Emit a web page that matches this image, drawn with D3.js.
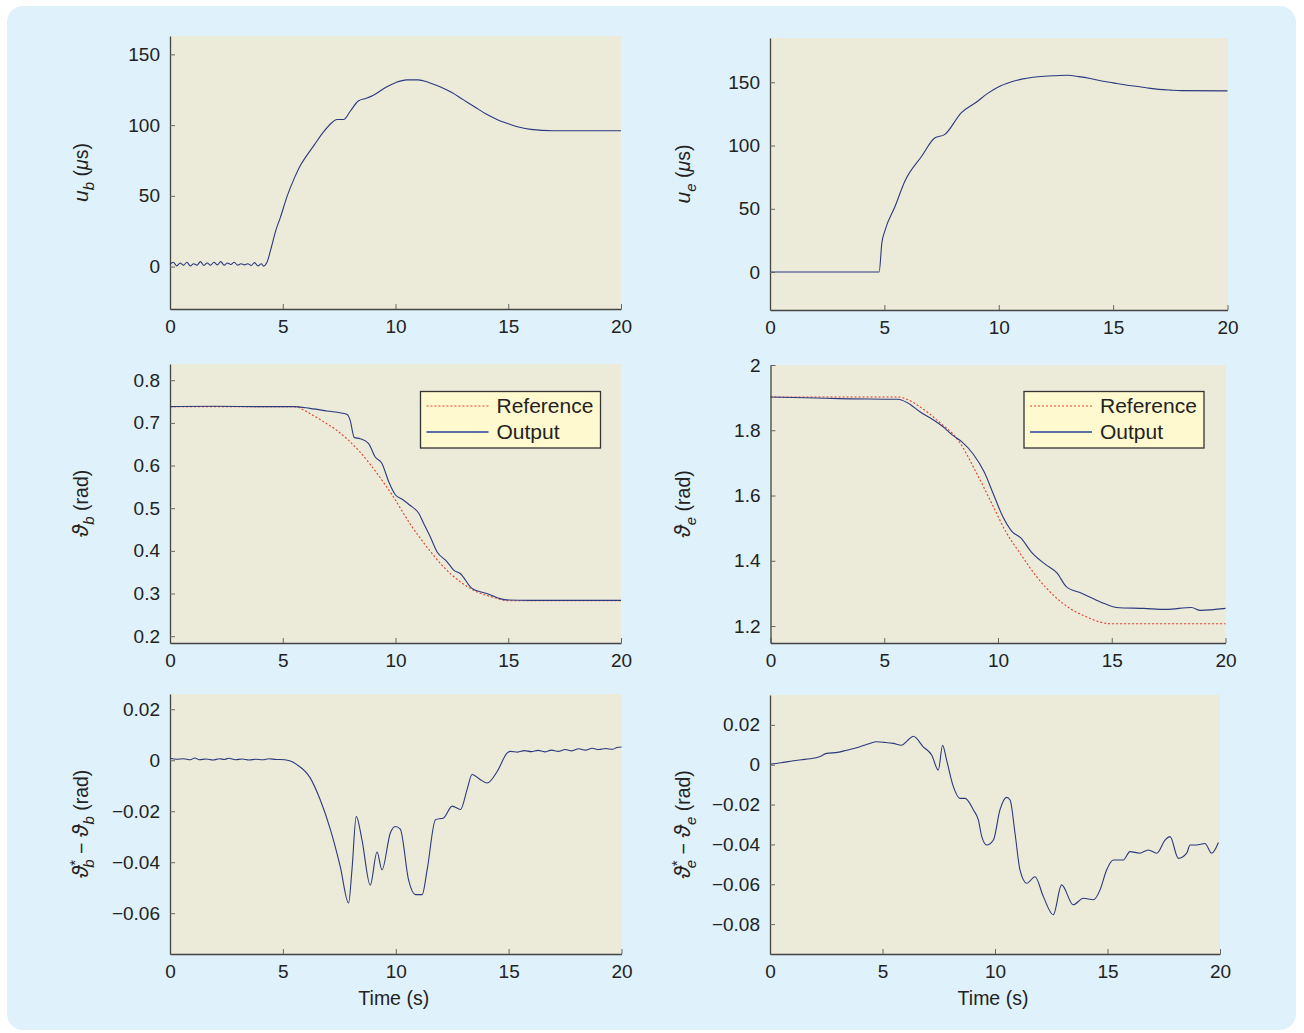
<!DOCTYPE html>
<html>
<head>
<meta charset="utf-8">
<script src="https://cdn.jsdelivr.net/npm/d3@7"></script>
<style>
  body { margin: 0; background: #ffffff; }
  text { font-family: "Liberation Sans", Arial, Helvetica, sans-serif; fill: #222; }
</style>
</head>
<body>
<svg id="chart"></svg>
<script>
// time axis shared by all panels
const timeDomain = [0, 20];
const timeTicks = [0, 5, 10, 15, 20];

// u_b (µs) : [t, value]
const ubData = [[0,1.5],[0.15,3],[0.3,0.5],[0.45,2.5],[0.6,1],[0.75,3],[0.9,0.5],[1.05,2],[1.2,1],[1.35,3.5],
  [1.5,0.8],[1.65,2.5],[1.8,1],[1.95,3],[2.1,1.2],[2.25,3.5],[2.4,1],[2.55,2.5],[2.7,1.5],[2.85,3],[3.0,1],
  [3.15,2],[3.3,1.2],[3.45,2],[3.6,0.8],[3.75,2.8],[3.9,0.5],[4.05,2],[4.15,0.3],[4.3,3],[4.5,14],[4.7,26],
  [4.9,35],[5.2,50],[5.5,62],[5.8,72],[6.0,77],[6.4,86],[6.8,95],[7.2,102],[7.4,104],[7.7,104],[8.0,110],
  [8.35,117],[8.7,119],[9.0,121],[9.6,127],[10.0,130],[10.5,132],[11.0,132],[11.5,130],[12.0,127],[12.5,123],
  [13.0,118],[13.5,113],[14.0,108],[14.5,104],[15.0,101],[15.5,98.5],[16,97],[17,96],[18,96],[20,96]];

// u_e (µs)
const ueData = [[0,0],[4.77,0],[4.89,23],[5.03,33],[5.47,52],[5.9,72],[6.63,91.5],[7.2,106],[7.63,108.6],
  [8.37,126],[9.0,134],[9.5,141],[10.0,146.5],[10.5,150],[11,152.5],[11.5,154],[12,154.8],[12.5,155.2],
  [13,155.5],[13.5,154.5],[14,153],[14.5,151],[15,149.5],[15.5,148],[16,146.8],[16.5,145.5],[17,144.4],
  [17.5,143.8],[18,143.4],[20,143.2]];

// theta_b (rad)
const thbRef = [[0,0.738],[5.5,0.738],[6.2,0.722],[6.8,0.703],[7.38,0.683],[8.42,0.632],[9.3,0.573],[9.9,0.527],
  [10.64,0.464],[11.38,0.41],[12.12,0.363],[12.86,0.328],[13.6,0.304],[14.35,0.291],[15,0.283],[20,0.283]];
const thbOut = [[0,0.738],[2,0.739],[4,0.738],[5.5,0.738],[6.2,0.734],[6.95,0.728],[7.84,0.72],[7.99,0.706],
  [8.17,0.666],[8.43,0.663],[8.8,0.652],[9.1,0.62],[9.4,0.605],[9.7,0.562],[10,0.531],[10.3,0.521],[10.64,0.507],
  [11.03,0.488],[11.25,0.464],[11.54,0.433],[11.84,0.398],[12.28,0.375],[12.58,0.355],[12.87,0.347],
  [13.39,0.312],[14.05,0.3],[14.93,0.285],[16,0.284],[18,0.284],[20,0.284]];

// theta_e (rad)
const theRef = [[0,1.902],[5.6,1.902],[6.0,1.895],[6.5,1.875],[7.0,1.85],[7.5,1.82],[8.0,1.79],[8.3,1.764],
  [9.04,1.671],[9.78,1.568],[10.37,1.486],[10.96,1.424],[11.69,1.352],[12.43,1.295],[13.16,1.254],
  [13.9,1.228],[14.49,1.212],[14.93,1.207],[20,1.207]];
const theOut = [[0,1.902],[2,1.899],[3,1.897],[5.6,1.895],[6.0,1.885],[6.6,1.855],[7.2,1.83],[7.6,1.81],
  [8.0,1.785],[8.4,1.765],[8.9,1.728],[9.4,1.671],[9.8,1.604],[10.2,1.537],[10.6,1.491],[11.0,1.47],
  [11.5,1.424],[12.1,1.388],[12.6,1.362],[13.0,1.321],[13.7,1.3],[14.5,1.274],[15.2,1.257],[16.4,1.254],
  [17.4,1.251],[18.5,1.257],[18.9,1.248],[20,1.254]];

// tracking errors (rad)
const errB = [[0,0.0008],[0.3,0.0004],[0.6,0.0006],[0.9,0.0002],[1.1,0.0009],[1.3,0.0002],[1.6,0.0005],
  [1.9,0.0001],[2.2,0.0006],[2.4,0.0003],[2.6,0.0008],[2.9,0.0002],[3.2,0.0005],[3.5,0.0001],[3.8,0.0004],
  [4.1,0.0002],[4.4,0.0006],[4.7,0.0003],[4.88,0.0003],[5.3,-0.0002],[5.62,-0.0017],[6.21,-0.0069],
  [6.65,-0.0154],[7.1,-0.027],[7.54,-0.0416],[7.91,-0.056],[8.06,-0.043],[8.25,-0.022],[8.5,-0.031],
  [8.87,-0.049],[9.17,-0.036],[9.39,-0.043],[9.76,-0.0285],[9.98,-0.026],[10.2,-0.027],[10.57,-0.047],
  [10.87,-0.0527],[11.17,-0.0527],[11.39,-0.043],[11.76,-0.0233],[12.12,-0.0226],[12.5,-0.018],
  [12.87,-0.0193],[13.16,-0.0115],[13.38,-0.0056],[13.75,-0.0076],[14.05,-0.0089],[14.5,-0.0043],
  [14.94,0.0029],[15.08,0.0035],[15.4,0.0032],[15.7,0.0038],[16,0.0034],[16.3,0.0039],[16.6,0.0033],
  [16.9,0.004],[17.2,0.0035],[17.5,0.0042],[17.8,0.0037],[18.1,0.0045],[18.4,0.004],[18.7,0.0047],
  [19,0.0042],[19.3,0.0046],[19.6,0.0043],[19.8,0.005],[20,0.0052]];
const errE = [[0,0.0002],[0.5,0.001],[1.04,0.002],[1.4,0.0025],[1.78,0.003],[2.2,0.004],[2.52,0.0057],
  [3.0,0.0062],[3.41,0.0073],[4,0.009],[4.4,0.0105],[4.74,0.0115],[5.1,0.0112],[5.48,0.0107],[5.85,0.0098],
  [6.1,0.012],[6.37,0.0143],[6.81,0.009],[7.19,0.0048],[7.48,-0.0027],[7.67,0.0098],[7.85,0.0023],
  [8.15,-0.011],[8.44,-0.0169],[8.67,-0.0169],[9.04,-0.0227],[9.26,-0.0277],[9.41,-0.036],[9.63,-0.0403],
  [9.93,-0.0378],[10.22,-0.0227],[10.52,-0.0164],[10.67,-0.0177],[10.89,-0.0344],[11.11,-0.0528],
  [11.41,-0.0595],[11.78,-0.0562],[12.15,-0.0662],[12.59,-0.0753],[12.96,-0.0603],[13.48,-0.0703],
  [13.93,-0.067],[14.37,-0.0678],[14.67,-0.0628],[14.96,-0.0528],[15.26,-0.0478],[15.7,-0.0478],
  [16,-0.0436],[16.44,-0.0444],[16.81,-0.0428],[17.19,-0.0444],[17.56,-0.0378],[17.78,-0.0361],
  [18.15,-0.047],[18.52,-0.0444],[18.67,-0.0403],[18.96,-0.0403],[19.33,-0.0395],[19.63,-0.0444],
  [19.93,-0.039]];

// y tick labels per panel
const ubTicks = [0, 50, 100, 150];
const ueTicks = [0, 50, 100, 150];
const thbTicks = [0.2, 0.3, 0.4, 0.5, 0.6, 0.7, 0.8];
const theTicks = [1.2, 1.4, 1.6, 1.8, 2];
const errBTicks = [-0.06, -0.04, -0.02, 0, 0.02];
const errETicks = [-0.08, -0.06, -0.04, -0.02, 0, 0.02];

const legendLabels = ["Reference", "Output"];

const width = 1304, height = 1033;
const svg = d3.select("#chart").attr("width", width).attr("height", height);

svg.append("rect")
    .attr("x", 7).attr("y", 6)
    .attr("width", 1289).attr("height", 1024)
    .attr("rx", 16)
    .attr("fill", "#dff1fb");

const outColor = "#2b3a7e";
const refColor = "#e2402c";

const minus = s => s.replace("-", "\u2212");

const panels = [
    { box: [170, 621, 36, 309], ydom: [-30, 163], ticks: ubTicks, fmt: d => String(d),
      series: [{ data: ubData }], label: "ub", lx: 88 },
    { box: [770, 1227.5, 38, 310], ydom: [-30, 185], ticks: ueTicks, fmt: d => String(d),
      series: [{ data: ueData }], label: "ue", lx: 690 },
    { box: [170, 621, 364, 643], ydom: [0.184, 0.838], ticks: thbTicks, fmt: d3.format(".1f"),
      series: [{ data: thbRef, ref: true }, { data: thbOut }], label: "thb", lx: 88, legend: [420.5, 391.5] },
    { box: [770.5, 1225.5, 365, 643], ydom: [1.148, 2.0], ticks: theTicks, fmt: d => d === 2 ? "2" : d3.format(".1f")(d),
      series: [{ data: theRef, ref: true }, { data: theOut }], label: "the", lx: 690, legend: [1024, 391.5] },
    { box: [170, 621.5, 694, 954], ydom: [-0.076, 0.026], ticks: errBTicks, fmt: d => d === 0 ? "0" : minus(d3.format(".2f")(d)),
      series: [{ data: errB }], label: "eb", lx: 88, time: true },
    { box: [770, 1220, 695, 954], ydom: [-0.095, 0.035], ticks: errETicks, fmt: d => d === 0 ? "0" : minus(d3.format(".2f")(d)),
      series: [{ data: errE }], label: "ee", lx: 690, time: true }
];

function yLabel(g, kind, x, y) {
    const t = g.append("text")
        .attr("transform", `translate(${x},${y}) rotate(-90)`)
        .attr("text-anchor", "middle")
        .attr("font-size", 19.5);
    const isU = kind[0] === "u";
    const sym = isU ? "u" : "\u03D1";
    const symSize = isU ? 21 : 23;
    const sub = kind === "ub" || kind === "thb" || kind === "eb" ? "b" : "e";
    if (kind === "eb" || kind === "ee") {
        t.append("tspan").attr("font-style", "italic").attr("font-size", symSize).text(sym);
        t.append("tspan").attr("font-size", 15).attr("dy", -8).text("*");
        t.append("tspan").attr("font-size", 15).attr("font-style", "italic").attr("dx", -8).attr("dy", 14).text(sub);
        t.append("tspan").attr("dy", -6).text(" \u2212 ");
        t.append("tspan").attr("font-style", "italic").attr("font-size", symSize).text(sym);
        t.append("tspan").attr("font-size", 15).attr("font-style", "italic").attr("dy", 6).text(sub);
        t.append("tspan").attr("dy", -6).text(" (rad)");
    } else {
        t.append("tspan").attr("font-style", "italic").attr("font-size", symSize).text(sym);
        t.append("tspan").attr("font-size", 15).attr("font-style", "italic").attr("dy", 6).text(sub);
        if (isU) {
            t.append("tspan").attr("dy", -6).text(" (");
            t.append("tspan").attr("font-style", "italic").text("\u03BC");
            t.append("tspan").text("s)");
        } else {
            t.append("tspan").attr("dy", -6).text(" (rad)");
        }
    }
}

panels.forEach(p => {
    const [l, r, top, bottom] = p.box;
    const x = d3.scaleLinear(timeDomain, [l, r]);
    const y = d3.scaleLinear(p.ydom, [bottom, top]);
    const g = svg.append("g");

    g.append("rect")
        .attr("x", l).attr("y", top)
        .attr("width", r - l).attr("height", bottom - top)
        .attr("fill", "#ecead9");

    const line = d3.line().curve(d3.curveMonotoneX).x(d => x(d[0])).y(d => y(d[1]));
    p.series.forEach(s => {
        g.append("path")
            .datum(s.data)
            .attr("fill", "none")
            .attr("stroke", s.ref ? refColor : outColor)
            .attr("stroke-width", 1.1)
            .attr("stroke-dasharray", s.ref ? "2,2" : null)
            .attr("d", line);
    });

    const xAxis = g.append("g")
        .attr("transform", `translate(0,${bottom})`)
        .call(d3.axisBottom(x).tickValues(timeTicks).tickFormat(d3.format("d"))
            .tickSizeInner(-5).tickSizeOuter(0).tickPadding(11));
    const yAxis = g.append("g")
        .attr("transform", `translate(${l},0)`)
        .call(d3.axisLeft(y).tickValues(p.ticks).tickFormat(p.fmt)
            .tickSizeInner(-5).tickSizeOuter(0).tickPadding(10));
    [xAxis, yAxis].forEach(a => {
        a.select(".domain").attr("stroke", "#444").attr("stroke-width", 1.3);
        a.selectAll(".tick line").attr("stroke", "#666");
        a.selectAll(".tick text").attr("font-size", 19).attr("fill", "#222")
            .attr("font-family", "'Liberation Sans', Arial, sans-serif");
    });

    yLabel(g, p.label, p.lx, (top + bottom) / 2);

    if (p.time) {
        g.append("text")
            .attr("x", (l + r) / 2 - 2).attr("y", 1005)
            .attr("text-anchor", "middle")
            .attr("font-size", 19.5)
            .text("Time (s)");
    }

    if (p.legend) {
        const [bx, by] = p.legend;
        const lg = g.append("g").attr("transform", `translate(${bx},${by})`);
        lg.append("rect")
            .attr("width", 180).attr("height", 56.5)
            .attr("fill", "#fff9cf")
            .attr("stroke", "#333").attr("stroke-width", 1.3);
        legendLabels.forEach((name, i) => {
            const ly = 14.5 + i * 26;
            lg.append("line")
                .attr("x1", 6).attr("x2", 68)
                .attr("y1", ly).attr("y2", ly)
                .attr("stroke", i === 0 ? refColor : "#26409a")
                .attr("stroke-width", i === 0 ? 1.2 : 1.6)
                .attr("stroke-dasharray", i === 0 ? "2,2" : null);
            lg.append("text")
                .attr("x", 76).attr("y", ly + 7)
                .attr("font-size", 21)
                .text(name);
        });
    }
});
</script>
</body>
</html>
